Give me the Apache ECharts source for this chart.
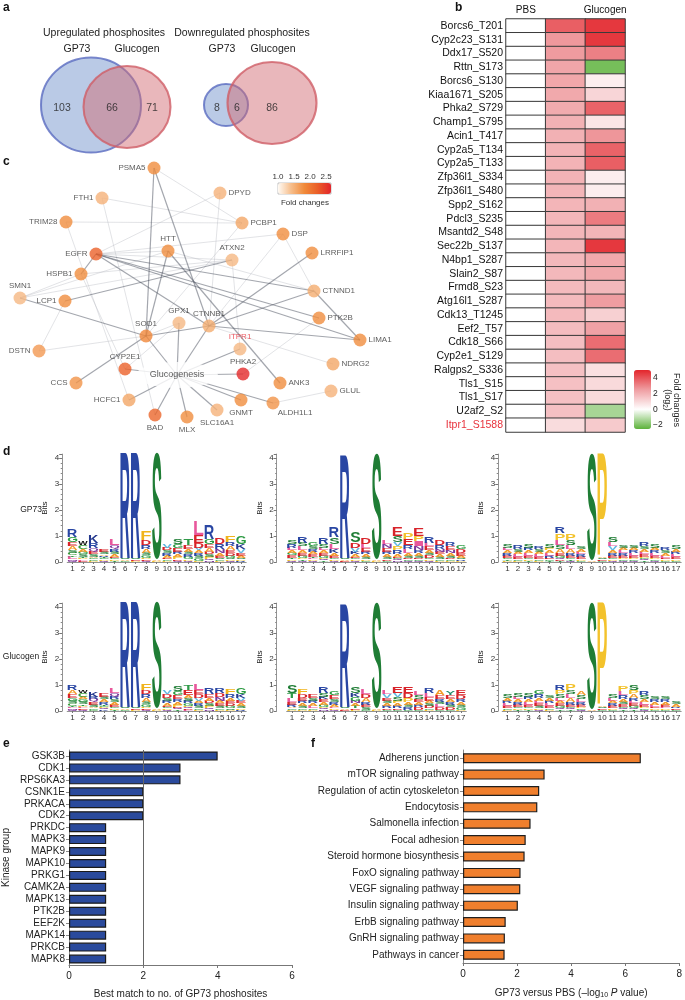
<!DOCTYPE html>
<html><head><meta charset="utf-8">
<script src="https://cdn.jsdelivr.net/npm/echarts@6/dist/echarts.min.js"></script>
<style>html,body{margin:0;padding:0;background:#fff}#c{width:685px;height:1000px}</style>
</head><body><div id="c"></div>
<script>
// ---------------- DATA ----------------
// Panel a: Venn counts [GP73 only, shared, Glucogen only]
const vennSetNames = ['GP73', 'Glucogen'];
const vennUpCounts = [103, 66, 71];
const vennDownCounts = [8, 6, 86];

// Panel b: heatmap (log2 fold changes)
const heatRows = ['Borcs6_T201','Cyp2c23_S131','Ddx17_S520','Rttn_S173','Borcs6_S130','Kiaa1671_S205','Phka2_S729','Champ1_S795','Acin1_T417','Cyp2a5_T134','Cyp2a5_T133','Zfp36l1_S334','Zfp36l1_S480','Spp2_S162','Pdcl3_S235','Msantd2_S48','Sec22b_S137','N4bp1_S287','Slain2_S87','Frmd8_S23','Atg16l1_S287','Cdk13_T1245','Eef2_T57','Cdk18_S66','Cyp2e1_S129','Ralgps2_S336','Tls1_S15','Tls1_S17','U2af2_S2','Itpr1_S1588'];
const heatCols = ['PBS', 'GP73', 'Glucogen'];
const pbsFold = [0,0,0,0,0,0,0,0,0,0,0,0,0,0,0,0,0,0,0,0,0,0,0,0,0,0,0,0,0,0];
const gp73Fold = [3.8,2.6,2.55,2.3,2.25,2.2,2.15,2.0,2.0,1.95,1.95,1.95,1.9,1.9,1.85,1.85,1.85,1.8,1.8,1.75,1.75,1.75,1.7,1.65,1.65,1.6,1.6,1.6,1.6,0.9];
const glucogenFold = [4.6,4.6,3.1,-2.1,0.43,1.07,3.7,0.66,2.65,3.7,3.8,0.45,0.45,2.0,3.2,1.9,4.6,2.2,2.2,1.8,2.5,1.2,2.4,3.5,3.5,0.8,0.95,0.95,-1.35,1.35];
const heatHighlight = 'Itpr1_S1588';
const heatLegendTicks = [-2, 0, 2, 4];

// Panel c: network
const netNodeNames = ['PSMA5','FTH1','DPYD','TRIM28','PCBP1','DSP','HTT','EGFR','ATXN2','LRRFIP1','HSPB1','SMN1','LCP1','CTNND1','GPX1','CTNNB1','PTK2B','SOD1','DSTN','ITPR1','CYP2E1','PHKA2','LIMA1','NDRG2','ANK3','GLUL','CCS','HCFC1','BAD','MLX','SLC16A1','GNMT','ALDH1L1'];
const netNodeFold = [1.8,1.5,1.5,1.8,1.6,1.8,1.8,2.2,1.45,1.8,1.8,1.45,1.8,1.55,1.45,1.55,1.8,1.85,1.7,1.45,2.2,2.6,1.8,1.6,1.8,1.5,1.75,1.6,2.15,1.8,1.5,1.8,1.75];
const netHub = 'Glucogenesis';
const netHighlight = 'ITPR1';
const netLinksStrong = [['PSMA5','SOD1'],['PSMA5','CTNNB1'],['EGFR','HSPB1'],['EGFR','CTNND1'],['EGFR','PTK2B'],['EGFR','CTNNB1'],['EGFR','LIMA1'],['HTT','SOD1'],['HTT','ANK3'],['LCP1','ATXN2'],['SMN1','SOD1'],['SOD1','CCS'],['SOD1','CTNNB1'],['CTNNB1','LRRFIP1'],['CTNNB1','CTNND1'],['CTNNB1','LIMA1'],['CTNND1','LIMA1'],
  ['Glucogenesis','SOD1'],['Glucogenesis','GPX1'],['Glucogenesis','CTNNB1'],['Glucogenesis','ITPR1'],['Glucogenesis','PHKA2'],['Glucogenesis','CYP2E1'],['Glucogenesis','HCFC1'],['Glucogenesis','BAD'],['Glucogenesis','MLX'],['Glucogenesis','SLC16A1'],['Glucogenesis','GNMT'],['Glucogenesis','ALDH1L1']];
const netLinksWeak = [['PSMA5','PCBP1'],['FTH1','PCBP1'],['TRIM28','PCBP1'],['FTH1','BAD'],['TRIM28','HCFC1'],['HSPB1','CYP2E1'],['DPYD','EGFR'],['DPYD','CTNNB1'],['PCBP1','SOD1'],['DSP','EGFR'],['DSP','CTNND1'],['DSP','CTNNB1'],['HTT','EGFR'],['EGFR','ATXN2'],['HTT','CTNND1'],['SMN1','HTT'],['SMN1','ATXN2'],['SMN1','HSPB1'],['HSPB1','ATXN2'],['LCP1','DSTN'],['SOD1','DSTN'],['GPX1','CYP2E1'],['ATXN2','ITPR1'],['CTNNB1','NDRG2'],['PTK2B','PHKA2'],['GLUL','ALDH1L1'],['SOD1','GPX1']];
const netLegendTicks = [1.0, 1.5, 2.0, 2.5];

// Panel d: sequence logos. Each position lists letters top->bottom with heights in 0.05-bit units
const logoPositions = ['1','2','3','4','5','6','7','8','9','10','11','12','13','14','15','16','17'];
const logoGP73_RRS = ['R6G4E3A3S2C2T1L2M1Q1','W3C3A2G2S2T1P1L1E1','K6R4Q3E2S2A1G1C1P1','E2S2A1R1T1G1P1Q1','L5Q3R2S2A2E1G1P1T1','R81S1A1G1','R81S1E1P1','F7D4R3A3S2G2P1E1Q1','S82A1P1','V3D2S2R2A2E1G1P1','S4G3E3R2A2P2D1Q1','T5E3A2S2R2G2P1Q1','L11E6D4V2A2R2S2G2P1','R11G4E3A3D2S2P2Q1N1','D5R4N3A2E2S1G1P1','F5R3A3E2D2G2S1P1Q1','G6K4V3E2A2S1P1R1'];
const logoGP73_RS = ['S3R3L2A2G2E2T1P1Q1','R5S3L3A2E2G2P1T1Q1','G3S2R2A2E2T1L1P1Q1','R5S3L2A2E2G2P1Q1T1','R8S5L4K3A2E2G1P1Q1','R79S1A1E1','S8D4V3K2A2E1G1P1Q1','D5L3E3R2A2S2P1G1','S81A1P1','L3N3E3R2A2S2D1G1','E7S5V3P3R3A2D1G1Q1N1','P5E5R3L3A2S2D1G1Q1','E6P4I4N3R2A2S2D1G1Q1','R5L3E3A2S2D2G1P1Q1','D4R3N2E2A2S2G1P1','R3E3N2A2S2D1G1P1','G3D3E2A2S1R1P1'];
const logoGP73_SP = ['S3L2A2R2E2G1T1P1','R3S2A2L2E2G1P1','S3R2A2L2E2G1P1T1','R2S2A2L2E2G1P1','S3P2A2L2R2E1G1T1','R5P5L4S3A3E2G2Q1D1T1','P5S4L3A3R2E2G1T1Q1','S2A2L2R2E2P1G1','S82A1','P79A1S1E1G1','S4L3V3A2R2E2G1P1Q1','S2A2L2R2E2P1G1Q1','S2A2R2L2E2P1G1Q1','R3S2A2L2E2P1G1Q1T1','S3A2R2L2E2P1G1Q1','R2S2A2L2E1P1G1','S3A2R2L2E2P1G1'];
const logoGlucogen_RRS = ['R4A3E3G2S2C2T1L1M1Q1','W2C3A2G2S2T1P1L1E1Q1','K4R2Q2E2S2A1G1C1','E3S2A2R2T1G1P1Q1K1','L4Q3R2S2A2E2G1P1T1','R81S1A1G1','R81S1E1P1','F5D3R3A3S2G2P1E1Q1','S82A1P1','V3D3S2R2A2E1G1P1Q1','S4G3E3R2A2P2D1Q1T1','T4E4A2S2R2G2P1Q1D1L1','L5E3D3V2A2R2S2G1P1','R5E3A2D2S2P2Q1N1','R4D3N3A2E2S2G1P1','F4R3A2E2D2G2S1P1','G5K3V2E2A2S2P1R1'];
const logoGlucogen_RS = ['S6T4L3E2R2A1G1P1','F4D3E2R2A2S2G1P1','E3S2R2A2L2G1P1','R5S3K2E2A2G2P1Q1N1','G3E3S2R2A2L1P1Q1','R79S1A1E1','S5K3G3N2A2T2E1P1','L4D3A3R2E2S2G1','S81A1P1','L3V3E2S2A2R2D1G1','E5V3S3P2A2R2D1G1','E5D4P3A2S2R2G1','L3S3E2A2R2D2G1','R4L3E3A2S2D2G1P1','A4E3R2S2L2D2G1','Y3E3A2R2S2D2G1','E4D3R2A2S2G2P1'];
const logoGlucogen_SP = ['S3A2R2L2E2G1P1','S3L2A2R2E2G1P1T1','S3R2A2L2E2G1P1T1','G3R3A2L2E2S2P1Q1','S2A2R2L2E2G1P1','R4P3S3L2A2E2G2Q1T1','P5S3L3A3R2E2G1Q1T1','A3S3L2R2E2P1G1Q1','S82A1','P79A1S1E1G1','S3L2A2R2E2P1G1','P4L3R3A2S2E2G1Q1T1','S4P3A3R2L2E2G2Q1T1','R3S3A2L2E2P1G1Q1','S2R2A2L2E1P1G1','S2R2A2E2L1P1G1','S2A2R1E1G1'];
const logoRowNames = ['GP73', 'Glucogen'];

// Panel e: kinases
const kinaseNames = ['GSK3B','CDK1','RPS6KA3','CSNK1E','PRKACA','CDK2','PRKDC','MAPK3','MAPK9','MAPK10','PRKG1','CAMK2A','MAPK13','PTK2B','EEF2K','MAPK14','PRKCB','MAPK8'];
const kinaseCounts = [4,3,3,2,2,2,1,1,1,1,1,1,1,1,1,1,1,1];
const kinaseReference = 2;

// Panel f: KEGG pathways
const pathwayNames = ['Adherens junction','mTOR signaling pathway','Regulation of actin cytoskeleton','Endocytosis','Salmonella infection','Focal adhesion','Steroid hormone biosynthesis','FoxO signaling pathway','VEGF signaling pathway','Insulin signaling pathway','ErbB signaling pathway','GnRH signaling pathway','Pathways in cancer'];
const pathwayScores = [6.58,3.02,2.82,2.75,2.5,2.32,2.28,2.13,2.12,2.03,1.58,1.55,1.54];

// ---------------- LAYOUT (page coordinate units) ----------------
const vennUpShapes = [[91,105,100,95],[127,107,87,82]];
const vennDownShapes = [[226,105,44,42],[272,103,89,82]];
const vennUpCountPos = [[62,108],[112,108],[152,108]];
const vennDownCountPos = [[217,108],[237,108],[272,108]];
const netNodeXY = [[154,168],[102,198],[220,193],[66,222],[242,223],[283,234],[168,251],[96,254],[232,260],[312,253],[81,274],[20,298],[65,301],[314,291],[179,323],[209,326],[319,318],[146,336],[39,351],[240,349],[125,369],[243,374],[360,340],[333,364],[280,383],[331,391],[76,383],[129,400],[155,415],[187,417],[217,410],[241,400],[273,403]];
const netHubXY = [177,375];
const netLabelPos = ['left','left','right','left','right','right','top','left','top','right','left','top','left','right','top','top','right','top','left','top','top','top','right','right','right','right','left','left','bottom','bottom','bottom','bottom','bottomright'];

// ---------------- STYLE ----------------
const FF = "'Liberation Sans', Arial, sans-serif";
const LOGO_FONT = "bold 100px 'Liberation Sans', Arial, sans-serif";
const LETTER_COLORS = {R:'#2946a3',K:'#25398e',H:'#3a5ab5',S:'#1f7d35',T:'#2f9a48',G:'#2a9a40',C:'#3a9a3a',Y:'#1f8a6a',P:'#f3c22c',F:'#f0b41c',A:'#f29a2a',D:'#d8232a',E:'#d8232a',L:'#e8589c',I:'#e8589c',M:'#8a3fa0',N:'#7d3a9c',Q:'#7d3a9c',V:'#5fb8e2',W:'#111111'};

// ---------------- BUILD ----------------
const mctx = document.createElement('canvas').getContext('2d');
mctx.font = LOGO_FONT; mctx.textBaseline = 'middle'; mctx.textAlign = 'center';
const glyphCache = {};
function glyph(L) {
  if (!glyphCache[L]) {
    const m = mctx.measureText(L);
    glyphCache[L] = {a: m.actualBoundingBoxAscent, d: m.actualBoundingBoxDescent, l: m.actualBoundingBoxLeft, r: m.actualBoundingBoxRight};
  }
  return glyphCache[L];
}
function buildLogo(strings) {
  const data = [], letters = [];
  strings.forEach((s, p) => {
    const parts = [];
    s.replace(/([A-Z])(\d+)/g, (m, L, n) => { parts.push([L, +n * 0.05]); return m; });
    let y = 0;
    for (let i = parts.length - 1; i >= 0; i--) {
      data.push([p, y, y + parts[i][1]]);
      letters.push(parts[i][0]);
      y += parts[i][1];
    }
  });
  return {data, letters};
}
function logoRender(letters) {
  return function (params, api) {
    const L = letters[params.dataIndex];
    const p0 = api.coord([api.value(0), api.value(1)]);
    const p1 = api.coord([api.value(0), api.value(2)]);
    const h = p0[1] - p1[1];
    if (h < 0.25) return null;
    const bw = api.size([1, 0])[0] * 0.9;
    const g = glyph(L);
    const sx = bw / (g.l + g.r), sy = h / (g.a + g.d);
    return {
      type: 'text', x: p0[0] - (g.r - g.l) / 2 * sx, y: p0[1] - g.d * sy, scaleX: sx, scaleY: sy, silent: true,
      style: {text: L, font: LOGO_FONT, fill: LETTER_COLORS[L] || '#888', align: 'center', verticalAlign: 'middle', textAlign: 'center', textVerticalAlign: 'middle'}
    };
  };
}

const grids = [
  {left: 0, top: 0, width: 685, height: 1000},
  {left: 506, top: 19, width: 119, height: 413},
  {left: 634, top: 370, width: 17, height: 59},
  {left: 278, top: 183, width: 53, height: 11, show: true, borderColor: '#9a9a9a', borderWidth: 0.6, backgroundColor: 'transparent'}
];
const xAxes = [
  {gridIndex: 0, type: 'value', min: 0, max: 685, show: false},
  {gridIndex: 1, type: 'category', data: heatCols, position: 'top', axisLine: {show: false}, axisTick: {show: false}, axisLabel: {fontSize: 10, color: '#111', margin: 4}},
  {gridIndex: 2, type: 'value', min: 0, max: 1, show: false},
  {gridIndex: 3, type: 'value', min: 1, max: 2.65, interval: 0.5, position: 'top', axisLine: {show: false}, axisTick: {show: false}, splitLine: {show: false},
    axisLabel: {fontSize: 8, color: '#333', margin: 2, formatter: v => netLegendTicks.some(t => Math.abs(t - v) < 1e-6) ? v.toFixed(1) : ''}}
];
const yAxes = [
  {gridIndex: 0, type: 'value', min: 0, max: 1000, inverse: true, show: false},
  {gridIndex: 1, type: 'category', data: heatRows, inverse: true, axisLine: {show: false}, axisTick: {show: false},
    axisLabel: {fontSize: 10.5, color: '#111', margin: 3, interval: 0, formatter: v => v === heatHighlight ? '{r|' + v + '}' : v, rich: {r: {color: '#e8323c', fontSize: 10.5}}}},
  {gridIndex: 2, type: 'value', min: -2.5, max: 5, interval: 0.5, position: 'right', axisLine: {show: false}, splitLine: {show: false},
    axisTick: {show: true, length: 3, customValues: heatLegendTicks, lineStyle: {color: '#444', width: 0.8}},
    axisLabel: {fontSize: 8.5, color: '#222', margin: 2, customValues: heatLegendTicks, formatter: v => v < 0 ? '\u2212' + Math.abs(v) : String(v)}},
  {gridIndex: 3, type: 'category', data: ['c'], show: false}
];

// logos
const logoSets = [logoGP73_RRS, logoGP73_RS, logoGP73_SP, logoGlucogen_RRS, logoGlucogen_RS, logoGlucogen_SP];
const logoLefts = [67.2, 286.7, 502.2], logoWidths = [179, 179.6, 179], logoOffsets = [5, 10, 4];
const logoTops = [454.1, 603.1], logoH = 107.9;
const logoSeries = [];
logoSets.forEach((set, k) => {
  const row = Math.floor(k / 3), col = k % 3;
  const gi = grids.length;
  grids.push({left: logoLefts[col], top: logoTops[row], width: logoWidths[col], height: logoH});
  xAxes.push({gridIndex: gi, type: 'category', data: logoPositions, axisLine: {lineStyle: {color: '#777', width: 0.8}},
    axisTick: {show: true, alignWithLabel: true, length: 2, lineStyle: {color: '#777'}}, axisLabel: {fontSize: 8, color: '#333', margin: 3, interval: 0}});
  yAxes.push({gridIndex: gi, type: 'value', min: 0, max: 4.15, interval: 1, offset: logoOffsets[col],
    axisLine: {show: true, lineStyle: {color: '#777', width: 0.8}}, axisTick: {show: true, length: 3, lineStyle: {color: '#777'}},
    minorTick: {show: true, splitNumber: 5, length: 1.5, lineStyle: {color: '#888'}}, splitLine: {show: false}, minorSplitLine: {show: false},
    axisLabel: {fontSize: 8, color: '#333', margin: 3, showMaxLabel: false, formatter: v => Number.isInteger(v) ? String(v) : ''},
    name: 'Bits', nameLocation: 'middle', nameGap: 13, nameRotate: 90, nameTextStyle: {fontSize: 8, color: '#222'}});
  const b = buildLogo(set);
  logoSeries.push({type: 'custom', xAxisIndex: gi, yAxisIndex: gi, data: b.data, encode: {x: 0, y: [1, 2]}, renderItem: logoRender(b.letters), silent: true, clip: false});
});

// panel e grid
const gE = grids.length;
grids.push({left: 69, top: 750, width: 223, height: 216});
xAxes.push({gridIndex: gE, type: 'value', min: 0, max: 6, interval: 2, axisLine: {show: true, lineStyle: {color: '#777'}}, axisTick: {show: true, length: 3, lineStyle: {color: '#777'}},
  splitLine: {show: false}, axisLabel: {fontSize: 10, color: '#222', margin: 6},
  name: 'Best match to no. of GP73 phoshosites', nameLocation: 'middle', nameGap: 24, nameTextStyle: {fontSize: 10, color: '#222'}});
yAxes.push({gridIndex: gE, type: 'category', data: kinaseNames, inverse: true, axisLine: {show: true, lineStyle: {color: '#888'}}, axisTick: {show: true, length: 3, alignWithLabel: true, lineStyle: {color: '#888'}},
  axisLabel: {fontSize: 10, color: '#222', margin: 4, interval: 0},
  name: 'Kinase group', nameLocation: 'middle', nameGap: 58, nameRotate: 90, nameTextStyle: {fontSize: 10, color: '#222'}});
// panel f grid
const gF = grids.length;
grids.push({left: 463, top: 750, width: 218, height: 217});
xAxes.push({gridIndex: gF, type: 'value', min: 0, max: 8, interval: 2, axisLine: {show: true, lineStyle: {color: '#777'}}, axisTick: {show: true, length: 3, lineStyle: {color: '#777'}},
  splitLine: {show: false}, axisLabel: {fontSize: 10, color: '#222', margin: 6},
  name: '{a|GP73 versus PBS (\u2013log}{s|10}{i| P}{a| value)}', nameLocation: 'middle', nameGap: 24,
  nameTextStyle: {rich: {a: {fontSize: 10, color: '#222'}, s: {fontSize: 7, color: '#222', padding: [5, 0, 0, 0]}, i: {fontSize: 10, color: '#222', fontStyle: 'italic'}}}});
yAxes.push({gridIndex: gF, type: 'category', data: pathwayNames, inverse: true, axisLine: {show: true, lineStyle: {color: '#888'}}, axisTick: {show: true, length: 3, alignWithLabel: true, lineStyle: {color: '#888'}},
  axisLabel: {fontSize: 10, color: '#222', margin: 4, interval: 0}});

// heatmap data
const heatCols3 = [pbsFold, gp73Fold, glucogenFold];
const heatData = [];
heatRows.forEach((r, i) => heatCols3.forEach((arr, c) => heatData.push([c, i, arr[i]])));

// venn
const vennStyle = [{color: 'rgba(110,145,203,0.6)', borderColor: '#5a6cc0'}, {color: 'rgba(210,105,113,0.6)', borderColor: '#cf5e66'}];
const vennShapeData = [];
[vennUpShapes, vennDownShapes].forEach(sh => sh.forEach((s, i) => vennShapeData.push({value: [s[0], s[1]], symbolSize: [s[2], s[3]], itemStyle: Object.assign({borderWidth: 2}, vennStyle[i])})));
const vennCountData = [];
vennUpCountPos.forEach((p, i) => vennCountData.push({value: p, name: String(vennUpCounts[i])}));
vennDownCountPos.forEach((p, i) => vennCountData.push({value: p, name: String(vennDownCounts[i])}));

// network
const graphNodes = netNodeNames.map((n, i) => ({name: n, value: netNodeXY[i]})).concat([{name: netHub, value: netHubXY}]);
const graphLinks = netLinksWeak.map(l => ({source: l[0], target: l[1], lineStyle: {color: '#b6b9c1', width: 0.8}}))
  .concat(netLinksStrong.map(l => ({source: l[0], target: l[1], lineStyle: {color: '#4a4f5d', width: 1.2}})));
const nodeData = netNodeNames.map((n, i) => {
  const pos = netLabelPos[i];
  const lab = {position: pos === 'bottomright' ? 'bottom' : pos, offset: pos === 'bottomright' ? [22, -3] : [0, 0]};
  if (n === netHighlight) lab.color = '#e8323c';
  return {name: n, value: [netNodeXY[i][0], netNodeXY[i][1], netNodeFold[i]], label: lab};
});

const option = {
  animation: false,
  textStyle: {fontFamily: FF},
  grid: grids, xAxis: xAxes, yAxis: yAxes,
  visualMap: [
    {type: 'continuous', seriesIndex: 5, dimension: 2, min: -2.5, max: 5, orient: 'vertical', left: 634, top: 370, itemWidth: 17, itemHeight: 59, padding: 0,
      calculable: false, hoverLink: false, inRange: {color: ['#5cb23a', '#ffffff', '#ef9da1', '#e3252b']}},
    {type: 'continuous', seriesIndex: 4, dimension: 2, min: 1, max: 2.65, orient: 'horizontal', left: 278, top: 183, itemWidth: 11, itemHeight: 53, padding: 0,
      calculable: false, hoverLink: false, inRange: {color: ['#fffaf4', '#f6bd8a', '#f08a3a', '#ea5e28', '#e2242b']}}
  ],
  series: [
    {type: 'scatter', xAxisIndex: 0, yAxisIndex: 0, data: vennShapeData, silent: true, z: 2},
    {type: 'scatter', xAxisIndex: 0, yAxisIndex: 0, data: vennCountData, symbolSize: 0, silent: true, z: 3,
      label: {show: true, position: 'inside', formatter: p => p.name, fontSize: 10.5, color: '#222'}},
    {type: 'graph', coordinateSystem: 'cartesian2d', xAxisIndex: 0, yAxisIndex: 0, data: graphNodes, links: graphLinks, symbolSize: 1,
      itemStyle: {opacity: 0}, label: {show: false}, silent: true, z: 2, emphasis: {disabled: true}},
    {type: 'scatter', xAxisIndex: 0, yAxisIndex: 0, data: [{name: netHub, value: netHubXY}], symbol: 'circle', symbolSize: [82, 26],
      itemStyle: {color: '#ffffff'}, silent: true, z: 3, label: {show: true, position: 'inside', formatter: p => p.name, fontSize: 9, color: '#333'}},
    {type: 'scatter', xAxisIndex: 0, yAxisIndex: 0, data: nodeData, symbolSize: 13, silent: true, z: 4,
      label: {show: true, formatter: p => p.name, fontSize: 8, color: '#333', distance: 2}},
    {type: 'heatmap', xAxisIndex: 1, yAxisIndex: 1, data: heatData, silent: true, itemStyle: {borderColor: '#3a3a3a', borderWidth: 1}, emphasis: {disabled: true}},
    ...logoSeries,
    {type: 'bar', xAxisIndex: gE, yAxisIndex: gE, data: kinaseCounts, barWidth: 9, silent: true, z: 3,
      itemStyle: {color: '#2a4a9c', borderColor: '#1a1a1a', borderWidth: 1.2}},
    {type: 'line', xAxisIndex: gE, yAxisIndex: gE, data: [], z: 1, silent: true,
      markLine: {silent: true, symbol: 'none', label: {show: false}, lineStyle: {color: '#666', width: 1, type: 'solid'}, data: [{xAxis: kinaseReference}]}},
    {type: 'bar', xAxisIndex: gF, yAxisIndex: gF, data: pathwayScores, barWidth: 10, silent: true,
      itemStyle: {color: '#f07f2d', borderColor: '#1f1f1f', borderWidth: 1.2}}
  ],
  graphic: [
    {type: 'text', x: 3, y: 2, style: {text: 'a', font: 'bold 12px ' + FF, fill: '#111'}},
    {type: 'text', x: 455, y: 2, style: {text: 'b', font: 'bold 12px ' + FF, fill: '#111'}},
    {type: 'text', x: 3, y: 156, style: {text: 'c', font: 'bold 12px ' + FF, fill: '#111'}},
    {type: 'text', x: 3, y: 446, style: {text: 'd', font: 'bold 12px ' + FF, fill: '#111'}},
    {type: 'text', x: 3, y: 738, style: {text: 'e', font: 'bold 12px ' + FF, fill: '#111'}},
    {type: 'text', x: 311, y: 738, style: {text: 'f', font: 'bold 12px ' + FF, fill: '#111'}},
    {type: 'text', x: 104, y: 33, style: {text: 'Upregulated phosphosites', font: '10.5px ' + FF, fill: '#222', align: 'center', verticalAlign: 'middle', textAlign: 'center', textVerticalAlign: 'middle'}},
    {type: 'text', x: 77, y: 49, style: {text: vennSetNames[0], font: '10.5px ' + FF, fill: '#222', align: 'center', verticalAlign: 'middle', textAlign: 'center', textVerticalAlign: 'middle'}},
    {type: 'text', x: 137, y: 49, style: {text: vennSetNames[1], font: '10.5px ' + FF, fill: '#222', align: 'center', verticalAlign: 'middle', textAlign: 'center', textVerticalAlign: 'middle'}},
    {type: 'text', x: 242, y: 33, style: {text: 'Downregulated phosphosites', font: '10.5px ' + FF, fill: '#222', align: 'center', verticalAlign: 'middle', textAlign: 'center', textVerticalAlign: 'middle'}},
    {type: 'text', x: 222, y: 49, style: {text: vennSetNames[0], font: '10.5px ' + FF, fill: '#222', align: 'center', verticalAlign: 'middle', textAlign: 'center', textVerticalAlign: 'middle'}},
    {type: 'text', x: 273, y: 49, style: {text: vennSetNames[1], font: '10.5px ' + FF, fill: '#222', align: 'center', verticalAlign: 'middle', textAlign: 'center', textVerticalAlign: 'middle'}},
    {type: 'text', x: 305, y: 203, style: {text: 'Fold changes', font: '8px ' + FF, fill: '#333', align: 'center', verticalAlign: 'middle', textAlign: 'center', textVerticalAlign: 'middle'}},
    {type: 'text', x: 676, y: 400, rotation: -Math.PI / 2, style: {text: 'Fold changes', font: '9px ' + FF, fill: '#222', align: 'center', verticalAlign: 'middle', textAlign: 'center', textVerticalAlign: 'middle'}},
    {type: 'text', x: 667, y: 400, rotation: -Math.PI / 2, style: {text: '(log{s|2})', font: '9px ' + FF, fill: '#222', align: 'center', verticalAlign: 'middle', textAlign: 'center', textVerticalAlign: 'middle', rich: {s: {fontSize: 6.5, padding: [4, 0, 0, 0]}}}},
    {type: 'text', x: 31, y: 510, style: {text: logoRowNames[0], font: '8.5px ' + FF, fill: '#222', align: 'center', verticalAlign: 'middle', textAlign: 'center', textVerticalAlign: 'middle'}},
    {type: 'text', x: 21, y: 657, style: {text: logoRowNames[1], font: '8.5px ' + FF, fill: '#222', align: 'center', verticalAlign: 'middle', textAlign: 'center', textVerticalAlign: 'middle'}}
  ]
};
const chart = echarts.init(document.getElementById('c'), null, {renderer: 'canvas', width: 685, height: 1000});
chart.setOption(option);
</script></body></html>
